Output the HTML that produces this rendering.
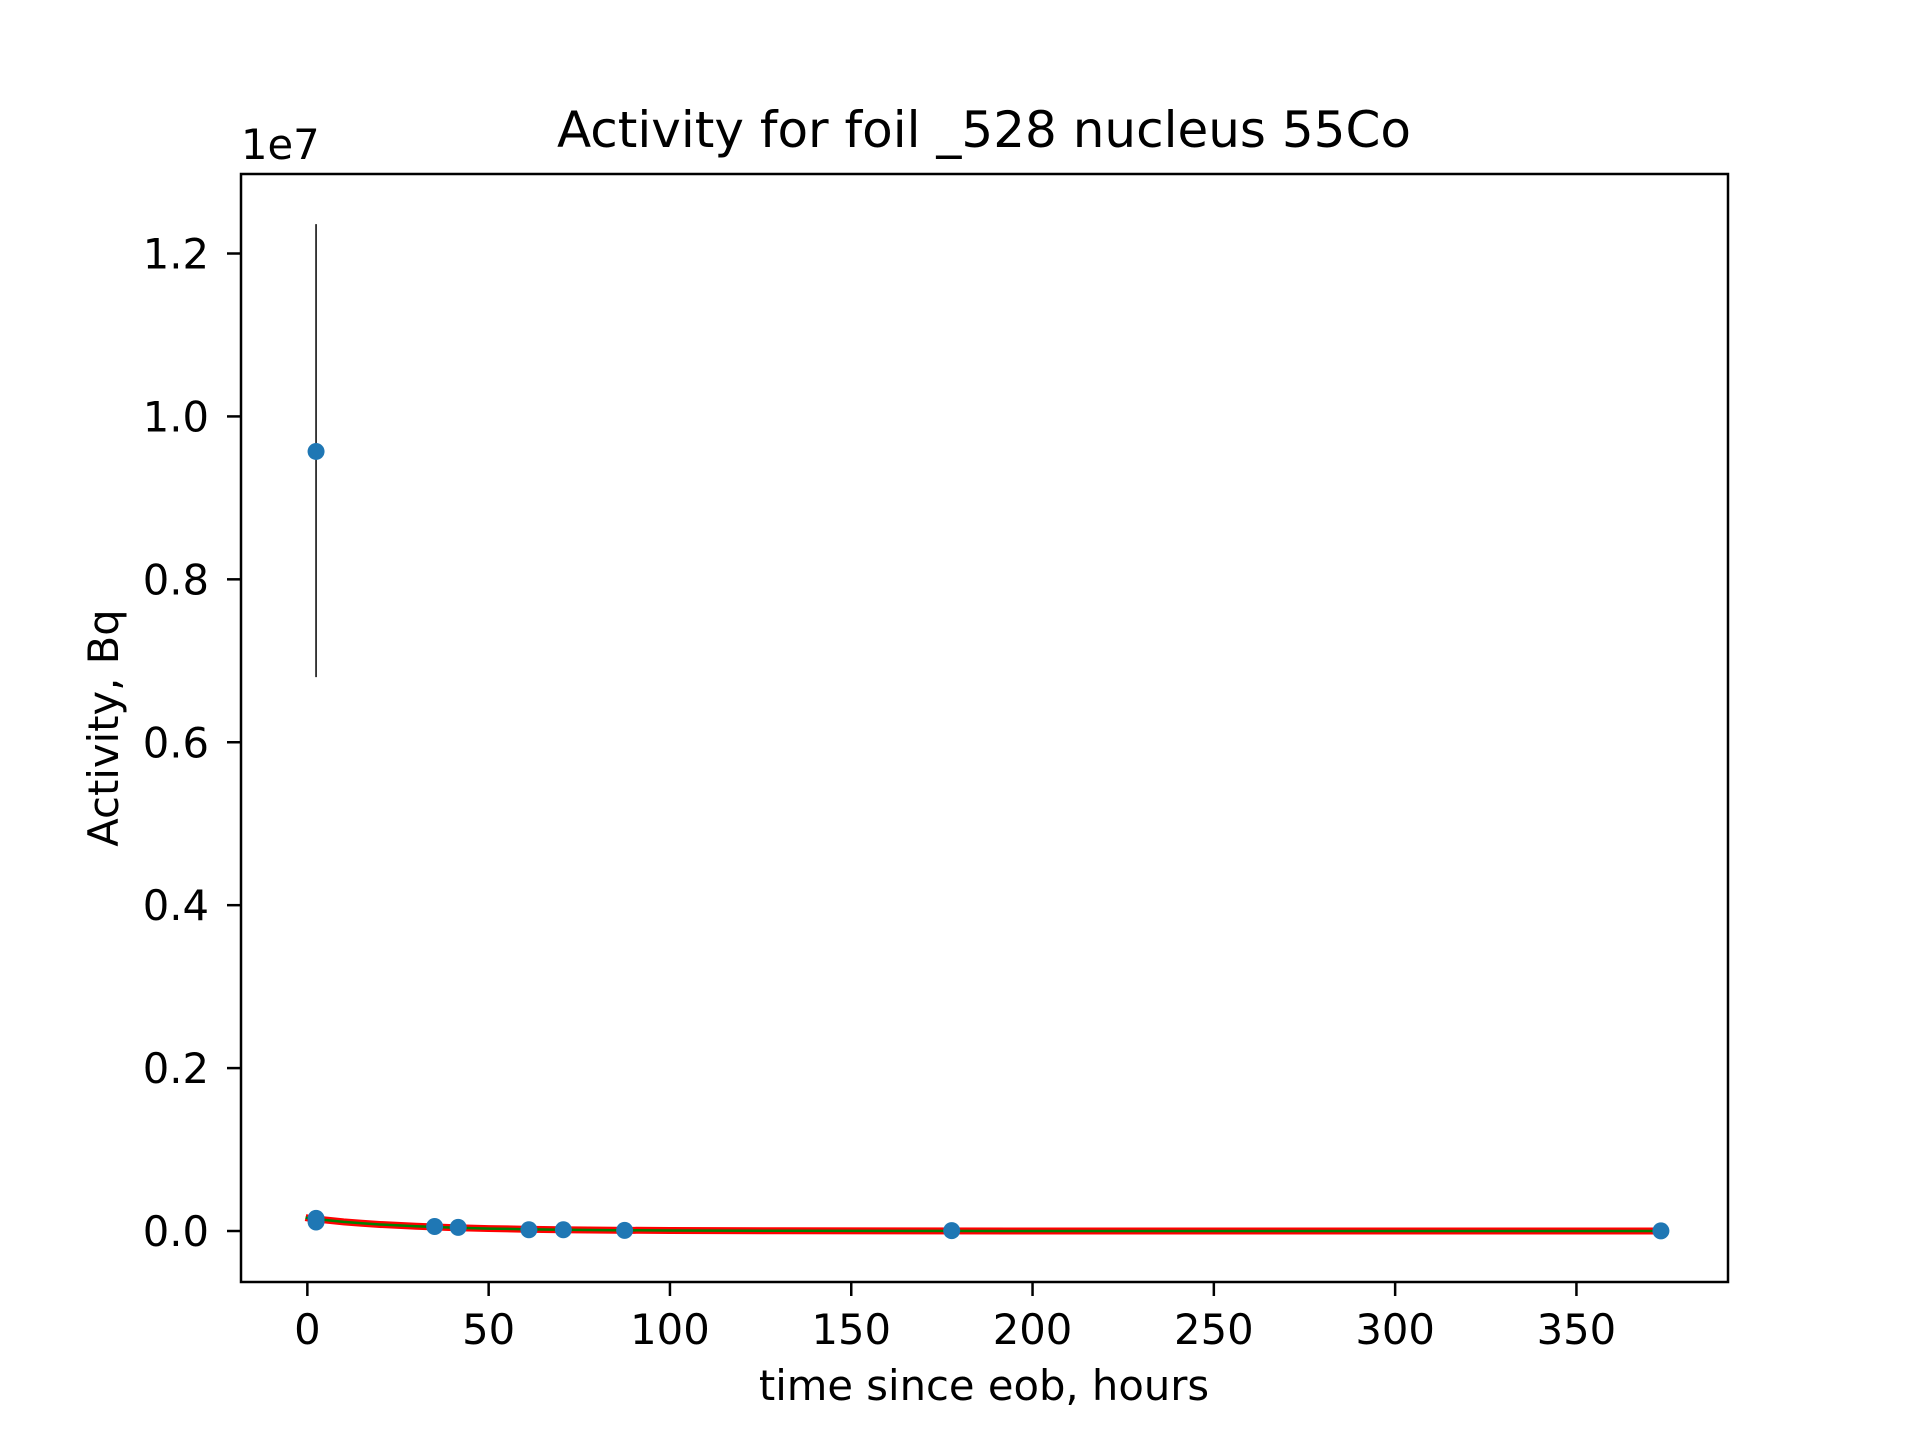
<!DOCTYPE html>
<html><head><meta charset="utf-8"><style>
html,body{margin:0;padding:0;background:#fff;}
svg{display:block;font-family:"DejaVu Sans","Liberation Sans",sans-serif;}
</style></head><body>
<svg id="chart" width="1920" height="1440" viewBox="0 0 1920 1440">
<rect width="1920" height="1440" fill="#fff"/>
<text x="984" y="147" font-size="50" text-anchor="middle">Activity for foil _528 nucleus 55Co</text>
<text x="241" y="159" font-size="41.7">1e7</text>
<text x="984" y="1400" font-size="41.7" text-anchor="middle">time since eob, hours</text>
<text transform="translate(118,728) rotate(-90)" font-size="41.7" text-anchor="middle">Activity, Bq</text>
<g id="xt"></g>
<g id="yt"></g>
<g id="marks"></g>
<rect x="241" y="174" width="1487" height="1108" fill="none" stroke="#000" stroke-width="2.5"/>
</svg>
<script>
const xTicks=[0,50,100,150,200,250,300,350];
const yTicks=[0,0.2,0.4,0.6,0.8,1.0,1.2];
const yTickLabels=["0.0","0.2","0.4","0.6","0.8","1.0","1.2"];
const times=[2.4,2.4,2.4,35.1,41.6,61.1,70.6,87.5,177.7,373.3];
const activity=[9.57e6,1.55e5,1.1e5,0.55e5,0.45e5,0.15e5,0.15e5,0.08e5,0.05e5,0.02e5];
const errLow=[6.80e6,null,null,null,null,null,null,null,null,null];
const errHigh=[12.36e6,null,null,null,null,null,null,null,null,null];
const fitT=[-0.5,0,5,10,15,20,30,40,50,60,70,85,100,130,160,200,260,372];
const fitA=[1.65e5,1.6e5,1.35e5,1.12e5,0.95e5,0.8e5,0.58e5,0.42e5,0.3e5,0.22e5,0.16e5,0.1e5,0.06e5,0.03e5,0.015e5,0.005e5,0.001e5,0];

const X0=241,X1=1728,Y0=174,Y1=1282;
const xmin=-18.3,xmax=391.8,ymin=-0.0626e7,ymax=1.2976e7;
const sx=v=>X0+(v-xmin)/(xmax-xmin)*(X1-X0);
const sy=v=>Y1-(v-ymin)/(ymax-ymin)*(Y1-Y0);
const NS="http://www.w3.org/2000/svg";
function mk(tag,attrs,parent){const e=document.createElementNS(NS,tag);for(const k in attrs)e.setAttribute(k,attrs[k]);parent.appendChild(e);return e;}
const xt=document.getElementById('xt'),yt=document.getElementById('yt'),marks=document.getElementById('marks');
xTicks.forEach(t=>{
  const l=mk('line',{x1:sx(t),x2:sx(t),y1:Y1,y2:Y1+14,stroke:'#000','stroke-width':2.5},xt);
  
  
  const tx=mk('text',{x:sx(t),y:1344,'font-size':41.7,'text-anchor':'middle'},xt);
  tx.textContent=t;
  
  
});
yTicks.forEach((t,i)=>{
  const y=sy(t*1e7);
  const l=mk('line',{x1:X0-14,x2:X0,y1:y,y2:y,stroke:'#000','stroke-width':2.5},yt);
  
  
  const tx=mk('text',{x:X0-32,y:y+15,'font-size':41.7,'text-anchor':'end'},yt);
  tx.textContent=yTickLabels[i];
  
  
});
const pts=fitT.map((t,i)=>sx(t)+','+sy(fitA[i])).join(' ');
const red=mk('polyline',{points:pts,fill:'none',stroke:'#ff0000','stroke-width':7},marks);


const green=mk('polyline',{points:pts,fill:'none',stroke:'#008000','stroke-width':2.5},marks);


times.forEach((t,i)=>{
  if(errLow[i]!==null){
    const e=mk('line',{x1:sx(t),x2:sx(t),y1:sy(errLow[i]),y2:sy(errHigh[i]),stroke:'#000','stroke-width':1.5},marks);
    
    
  }
  const c=mk('circle',{cx:sx(t),cy:sy(activity[i]),r:8.5,fill:'#1f77b4'},marks);
  
  
});
</script>
</body></html>
